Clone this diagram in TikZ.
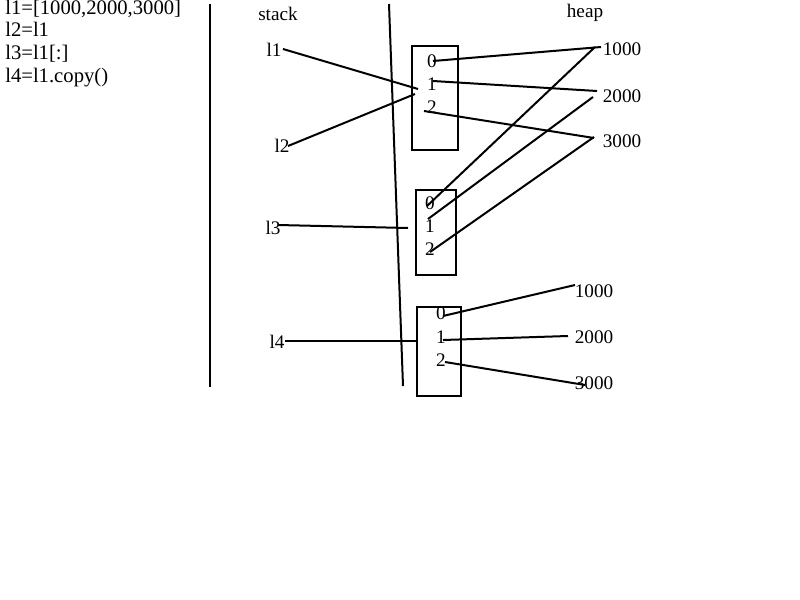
\documentclass[tikz,border=0pt]{standalone}
\usepackage{fontspec}
\setmainfont{Liberation Serif}
\begin{document}
\begin{tikzpicture}[x=0.75pt,y=-0.75pt,
  txt/.style={inner sep=0pt,font=\fontsize{14.4}{17}\selectfont},
  code/.style={inner sep=0pt,anchor=base west,font=\fontsize{15.5}{18}\selectfont},
  ln/.style={line width=1.5pt},
  cell/.style={draw,line width=1.5pt,inner sep=0pt}]
\useasboundingbox (0,0) rectangle (800,600);
% code
\node[code] (c1) at (5,14) {l1=[1000,2000,3000]};
\node[code] (c2) at (5,36) {l2=l1};
\node[code] (c3) at (5,59) {l3=l1[:]};
\node[code] (c4) at (5,82) {l4=l1.copy()};
% separators
\coordinate (v1t) at (210,4); \coordinate (v1b) at (210,387);
\coordinate (v2t) at (389,4); \coordinate (v2b) at (403,386);
\draw[ln] (v1t) -- (v1b);
\draw[ln] (v2t) -- (v2b);
\node[txt,anchor=base] (stack) at (278,20) {stack};
\node[txt,anchor=base] (heap) at (585,17.5) {heap};
% boxes
\node[cell,minimum width=46pt*0.75,minimum height=104pt*0.75] (b1) at (435,98) {};
\node[cell,minimum width=40pt*0.75,minimum height=85pt*0.75] (b2) at (436,232.5) {};
\node[cell,minimum width=44pt*0.75,minimum height=89pt*0.75] (b3) at (439,351.5) {};
% indices
\node[txt] (a0) at (432,61) {0};
\node[txt] (a1) at (432,84) {1};
\node[txt] (a2) at (432,107) {2};
\node[txt] (b0i) at (430,203) {0};
\node[txt] (b1i) at (430,226) {1};
\node[txt] (b2i) at (430,249) {2};
\node[txt] (c0i) at (441,313) {0};
\node[txt] (c1i) at (441,337) {1};
\node[txt] (c2i) at (441,360) {2};
% stack names
\node[txt] (s1) at (274,50) {l1};
\node[txt] (s2) at (282,146) {l2};
\node[txt] (s3) at (273,228) {l3};
\node[txt] (s4) at (277,342) {l4};
% heap values
\node[txt] (h1) at (622,49) {1000};
\node[txt] (h2) at (622,96) {2000};
\node[txt] (h3) at (622,141) {3000};
\node[txt] (k1) at (594,291) {1000};
\node[txt] (k2) at (594,337) {2000};
\node[txt] (k3) at (594,383) {3000};
% endpoints
\coordinate (e1) at (418,89);
\coordinate (e2) at (415,94);
\coordinate (e3) at (408,228);
\coordinate (e4) at (417,341);
% connectors
\draw[ln] (283,49) -- (e1);
\draw[ln] (288,146) -- (e2);
\draw[ln] (433,61) -- (601,47);
\draw[ln] (433,81) -- (597,91);
\draw[ln] (424,111) -- (594,138);
\draw[ln] (427,206) -- (595,47);
\draw[ln] (428,219) -- (593,97);
\draw[ln] (430,252) -- (594,137);
\draw[ln] (278,225) -- (e3);
\draw[ln] (285,341) -- (e4);
\draw[ln] (443,316) -- (575,285);
\draw[ln] (443,340) -- (568,336);
\draw[ln] (445,362) -- (585,385);
\end{tikzpicture}
\end{document}
